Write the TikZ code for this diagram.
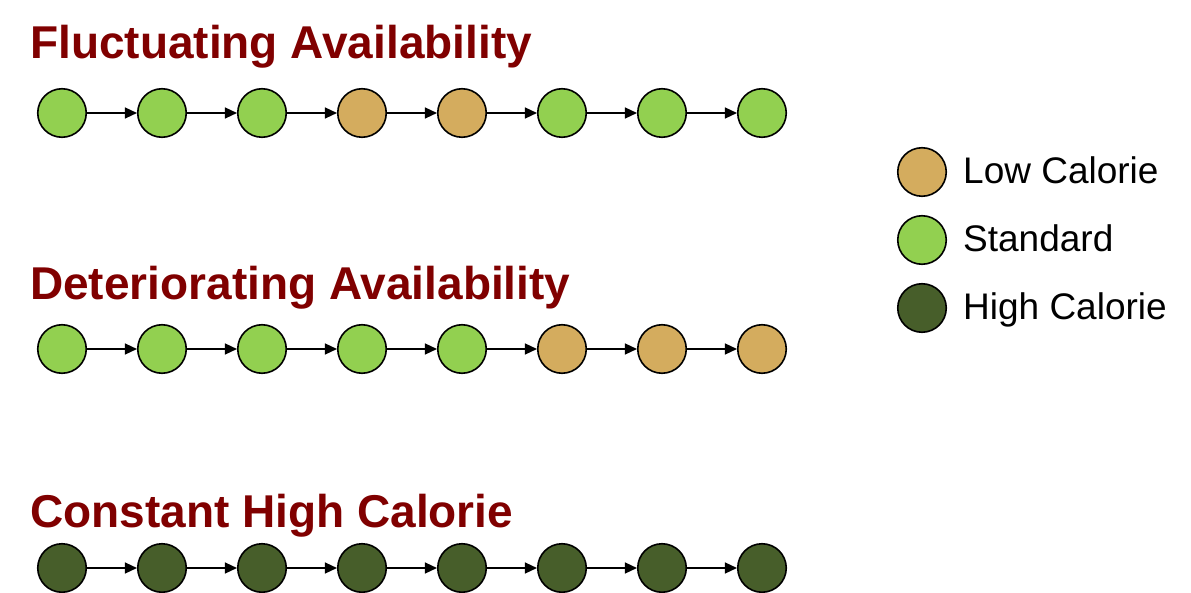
\documentclass[tikz,border=0pt]{standalone}
\usepackage{fontspec}
\setmainfont{Liberation Sans}
\usetikzlibrary{arrows.meta}
\definecolor{lowcal}{RGB}{212,172,94}
\definecolor{stdcal}{RGB}{146,208,80}
\definecolor{highcal}{RGB}{71,94,42}
\definecolor{titlered}{RGB}{128,0,0}
\tikzset{
  dot/.style={circle, draw=black, line width=1.6bp, minimum size=48.5bp, inner sep=0pt},
  lo/.style={dot, fill=lowcal},
  st/.style={dot, fill=stdcal},
  hi/.style={dot, fill=highcal},
  conn/.style={line width=1.4bp, -{Triangle[length=12bp,width=11bp]}},
  ttl/.style={anchor=base west, inner sep=0pt, text=titlered, font=\fontsize{46bp}{50bp}\selectfont\bfseries},
  leg/.style={anchor=base west, inner sep=0pt, font=\fontsize{37bp}{40bp}\selectfont},
}
\begin{document}
\begin{tikzpicture}[x=1bp,y=-1bp]
\useasboundingbox (0,0) rectangle (1191,593);
\node[ttl] (t1) at (30,59) {Fluctuating Availability};
\node[ttl] (t2) at (30,300) {Deteriorating Availability};
\node[ttl] (t3) at (30,527) {Constant High Calorie};
% row 1
\foreach \i/\s in {1/st,2/st,3/st,4/lo,5/lo,6/st,7/st,8/st}
  \node[\s] (a\i) at ({62+100*(\i-1)},113) {};
% row 2
\foreach \i/\s in {1/st,2/st,3/st,4/st,5/st,6/lo,7/lo,8/lo}
  \node[\s] (b\i) at ({62+100*(\i-1)},349) {};
% row 3
\foreach \i in {1,...,8}
  \node[hi] (c\i) at ({62+100*(\i-1)},568) {};
\foreach \i [evaluate=\i as \j using int(\i+1)] in {1,...,7}{
  \draw[conn] (a\i) -- (a\j);
  \draw[conn] (b\i) -- (b\j);
  \draw[conn] (c\i) -- (c\j);
}
% legend
\node[lo] (l1) at (922,172) {};
\node[st] (l2) at (922,240) {};
\node[hi] (l3) at (922,308) {};
\node[leg] (lt1) at (963,184) {Low Calorie};
\node[leg] (lt2) at (963,252) {Standard};
\node[leg] (lt3) at (963,320) {High Calorie};
\end{tikzpicture}
\end{document}
